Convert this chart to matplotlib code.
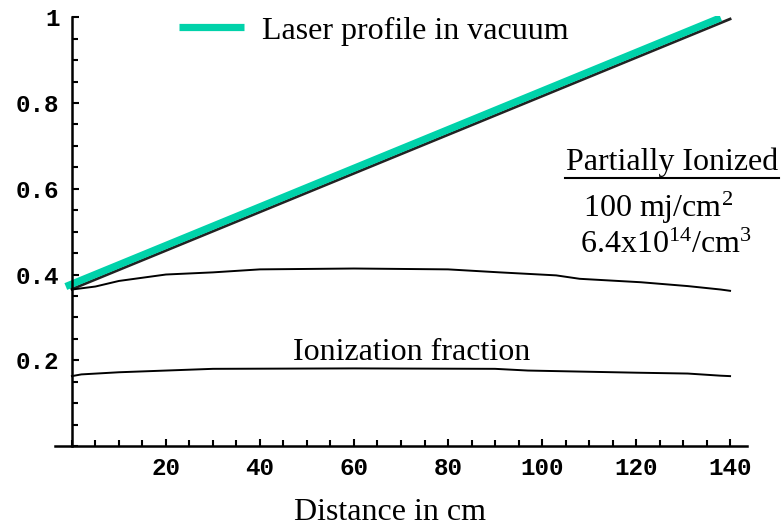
import matplotlib
matplotlib.use("Agg")
import matplotlib.pyplot as plt
from matplotlib.ticker import MultipleLocator
from matplotlib.lines import Line2D

# data
line_x = [0, 140]
line_y = [0.366, 0.996]
laser_x = [-1.3, 138]
laser_y = [0.372, 0.999]

mid_x = [0, 5, 10, 20, 30, 40, 60, 80, 91, 103, 108, 121, 131, 138, 140]
mid_y = [0.365, 0.372, 0.385, 0.400, 0.405, 0.412, 0.414, 0.412, 0.405, 0.398, 0.390, 0.382, 0.373, 0.365, 0.362]

low_x = [0, 2, 10, 30, 60, 90, 97, 120, 131, 138, 140]
low_y = [0.163, 0.167, 0.172, 0.180, 0.181, 0.180, 0.176, 0.171, 0.169, 0.164, 0.163]

xticks = [20, 40, 60, 80, 100, 120, 140]
yticks = [0.2, 0.4, 0.6, 0.8, 1.0]
ylabels = ["0.2", "0.4", "0.6", "0.8", "1"]

serif = "Liberation Serif"
plt.rcParams["mathtext.fontset"] = "custom"
plt.rcParams["mathtext.rm"] = serif
plt.rcParams["mathtext.it"] = serif + ":italic"

W, H = 781, 525
fig = plt.figure(figsize=(W / 100, H / 100), dpi=100)
ax = fig.add_axes([55 / W, (H - 446) / H, (747 - 55) / W, (446 - 16) / H])

green = "#00d2aa"
ax.plot(line_x, line_y, color="#222222", lw=2.0)
ax.plot(laser_x, laser_y, color=green, lw=5.2, solid_capstyle="butt")
ax.plot(mid_x, mid_y, color="black", lw=1.4)
ax.plot(low_x, low_y, color="black", lw=1.4)

ax.set_xlim(-3.6, 143.6)
ax.set_ylim(0, 1.003)

for s in ["top", "right"]:
    ax.spines[s].set_visible(False)
ax.spines["left"].set_position(("data", 0))
ax.spines["bottom"].set_position(("data", 0))
ax.spines["left"].set_bounds(0, 1.0)
ax.spines["left"].set_linewidth(1.8)
ax.spines["bottom"].set_linewidth(1.8)

ax.set_xticks(xticks)
ax.set_xticklabels([str(t) for t in xticks])
ax.set_yticks(yticks)
ax.set_yticklabels(ylabels)
ax.xaxis.set_minor_locator(MultipleLocator(5))
ax.yaxis.set_minor_locator(MultipleLocator(0.05))
ax.tick_params(which="both", direction="in", width=1.5, labelsize=17.5)
ax.tick_params(which="major", length=5)
ax.tick_params(which="minor", length=4)
ax.tick_params(axis="x", pad=8)
ax.tick_params(axis="y", pad=9)
for lab in ax.get_xticklabels() + ax.get_yticklabels():
    lab.set_family("Liberation Mono")
    lab.set_fontweight("bold")

fs = 23
fig.text(390 / W, 1 - 512 / H, "Distance in cm", family=serif, fontsize=fs,
         ha="center", va="center")

handle = Line2D([], [], color=green, lw=5.2, solid_capstyle="butt")
ax.legend([handle], ["Laser profile in vacuum"], loc="center left",
          bbox_to_anchor=(179 / W, 1 - 31 / H), bbox_transform=fig.transFigure,
          frameon=False, prop={"family": serif, "size": fs},
          handlelength=2.05, handletextpad=0.55, borderpad=0, borderaxespad=0)

ax.text(293, H - 352, "Ionization fraction", transform=None, family=serif,
        fontsize=fs, va="center", ha="left")
ax.text(778, H - 162, "Partially Ionized", transform=None, family=serif,
        fontsize=fs, va="center", ha="right")
ax.plot([565, 779], [H - 178, H - 178], transform=None, color="black", lw=1.5,
        clip_on=False)
ax.text(583, H - 208, r"100 mj/cm$^2$", transform=None, family=serif,
        fontsize=fs, va="center", ha="left")
ax.text(580, H - 245, r"6.4x10$^{14}$/cm$^3$", transform=None, family=serif,
        fontsize=fs, va="center", ha="left")

fig.savefig("out.png", dpi=100)
